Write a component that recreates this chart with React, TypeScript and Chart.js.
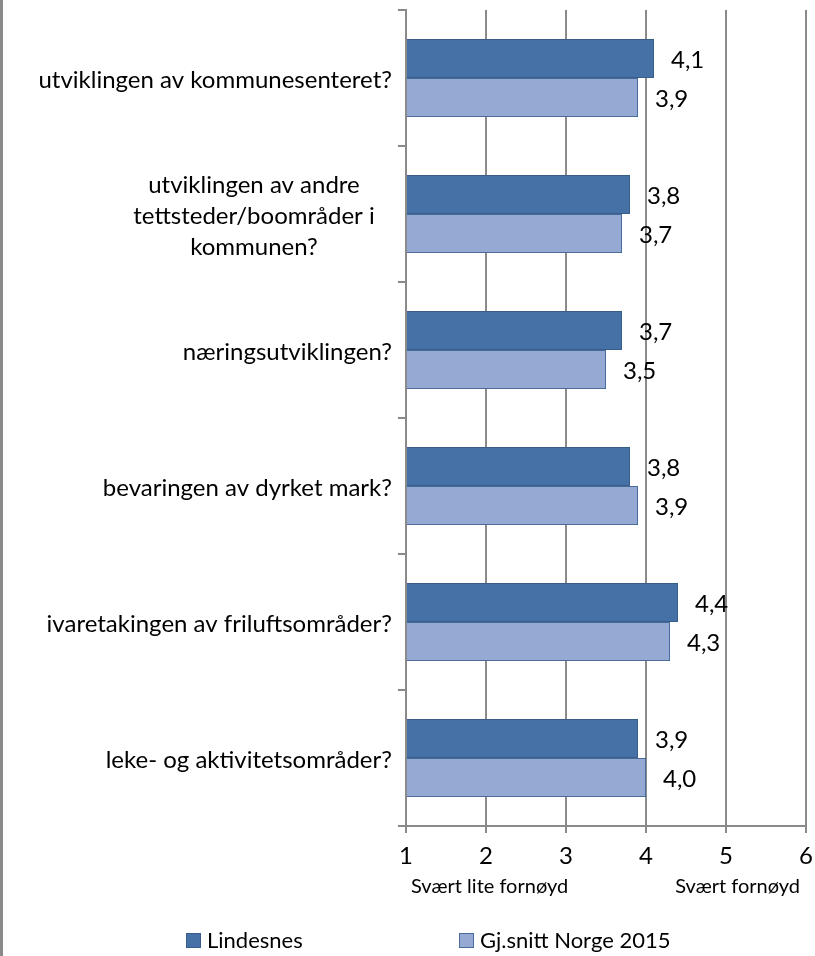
import React, { useEffect, useRef } from 'react';
import { Chart, registerables } from 'chart.js';

Chart.register(...registerables);

const categories: string[][] = [
  ['utviklingen av kommunesenteret?'],
  ['utviklingen av andre', 'tettsteder/boområder i', 'kommunen?'],
  ['næringsutviklingen?'],
  ['bevaringen av dyrket mark?'],
  ['ivaretakingen av friluftsområder?'],
  ['leke- og aktivitetsområder?'],
];
const seriesNames = ['Lindesnes', 'Gj.snitt Norge 2015'];
const lindesnes = [4.1, 3.8, 3.7, 3.8, 4.4, 3.9];
const norge = [3.9, 3.7, 3.5, 3.9, 4.3, 4.0];
const xMin = 1;
const xMax = 6;
const axisNotes = ['Svært lite fornøyd', 'Svært fornøyd'];

const FONT = 'Lato, "Open Sans", sans-serif';
const FS = 24;
const GRID = '#8a8a8a';
const DARK = '#4671a7';
const DARK_BORDER = '#385d8a';
const LIGHT = '#95a9d3';
const LIGHT_BORDER = '#4a6c9c';

const fmt = (v: number) => v.toFixed(1).replace('.', ',');

const overlay = {
  id: 'overlay',
  afterDraw(chart: any) {
    const ctx = chart.ctx as CanvasRenderingContext2D;
    const xs = chart.scales.x;
    const ys = chart.scales.y;
    ctx.save();
    // left frame line
    ctx.fillStyle = GRID;
    ctx.fillRect(0, 0, 3, chart.height);

    ctx.fillStyle = '#000';
    ctx.font = `${FS}px ${FONT}`;
    ctx.textBaseline = 'middle';
    // category labels
    const lineH = 31;
    categories.forEach((lines, i) => {
      const cy = ys.getPixelForValue(i);
      const n = lines.length;
      lines.forEach((line, j) => {
        const ly = cy + (j - (n - 1) / 2) * lineH + 2;
        if (n === 1) {
          ctx.textAlign = 'right';
          ctx.fillText(line, ys.right - 14, ly);
        } else {
          ctx.textAlign = 'center';
          ctx.fillText(line, 254, ly);
        }
      });
    });

    // data labels
    ctx.textAlign = 'left';
    chart.data.datasets.forEach((ds: any, di: number) => {
      const meta = chart.getDatasetMeta(di);
      meta.data.forEach((el: any, i: number) => {
        ctx.fillText(fmt(ds.data[i]), el.x + 17, el.y + 2);
      });
    });

    // axis notes
    ctx.font = `20px ${FONT}`;
    ctx.textAlign = 'left';
    ctx.fillText(axisNotes[0], xs.getPixelForValue(xMin) + 5, 887);
    ctx.textAlign = 'right';
    ctx.fillText(axisNotes[1], xs.getPixelForValue(xMax) - 6, 887);

    // legend
    ctx.font = `22px ${FONT}`;
    ctx.textAlign = 'left';
    const items = [
      { x: 186, fill: DARK, stroke: DARK_BORDER },
      { x: 459, fill: LIGHT, stroke: LIGHT_BORDER },
    ];
    items.forEach((it, i) => {
      ctx.fillStyle = it.fill;
      ctx.fillRect(it.x, 933, 15, 15);
      ctx.strokeStyle = it.stroke;
      ctx.lineWidth = 1;
      ctx.strokeRect(it.x + 0.5, 933.5, 14, 14);
      ctx.fillStyle = '#000';
      ctx.fillText(seriesNames[i], it.x + 21, 941);
    });
    ctx.restore();
  },
};

export default function App() {
  const ref = useRef<HTMLCanvasElement | null>(null);
  useEffect(() => {
    if (!ref.current) return;
    const chart = new Chart(ref.current, {
      type: 'bar',
      data: {
        labels: categories.map((c) => c.join(' ')),
        datasets: [
          {
            label: seriesNames[0],
            data: lindesnes,
            base: xMin,
            backgroundColor: DARK,
            borderColor: DARK_BORDER,
            borderWidth: 1,
            categoryPercentage: 0.574,
            barPercentage: 1,
          },
          {
            label: seriesNames[1],
            data: norge,
            base: xMin,
            backgroundColor: LIGHT,
            borderColor: LIGHT_BORDER,
            borderWidth: 1,
            categoryPercentage: 0.574,
            barPercentage: 1,
          },
        ] as any,
      },
      options: {
        indexAxis: 'y',
        responsive: false,
        animation: false,
        layout: { padding: { top: 10, right: 9, bottom: 0, left: 0 } },
        plugins: {
          legend: { display: false },
          tooltip: { enabled: false },
        },
        scales: {
          x: {
            type: 'linear',
            min: xMin,
            max: xMax,
            ticks: {
              stepSize: 1,
              color: '#000',
              font: { family: FONT, size: FS },
              padding: 9,
            },
            grid: {
              color: GRID,
              lineWidth: 2,
              tickLength: 7,
              drawTicks: true,
            },
            border: { color: GRID, width: 2 },
            afterFit: (scale: any) => {
              scale.height = 130;
              scale.paddingRight = 0;
              scale.paddingLeft = 0;
            },
          },
          y: {
            type: 'category',
            ticks: { display: false },
            grid: {
              offset: true,
              drawOnChartArea: false,
              drawTicks: true,
              tickLength: 8,
              color: GRID,
              lineWidth: 2,
            },
            border: { color: GRID, width: 2 },
            afterFit: (scale: any) => {
              scale.width = 406;
            },
          },
        },
      } as any,
      plugins: [overlay],
    });
    return () => chart.destroy();
  }, []);
  return (
    <div style={{ position: 'absolute', left: 0, top: 0, width: 815, height: 956, background: '#fff' }}>
      <canvas ref={ref} width={815} height={956} style={{ width: 815, height: 956, display: 'block' }} />
    </div>
  );
}
